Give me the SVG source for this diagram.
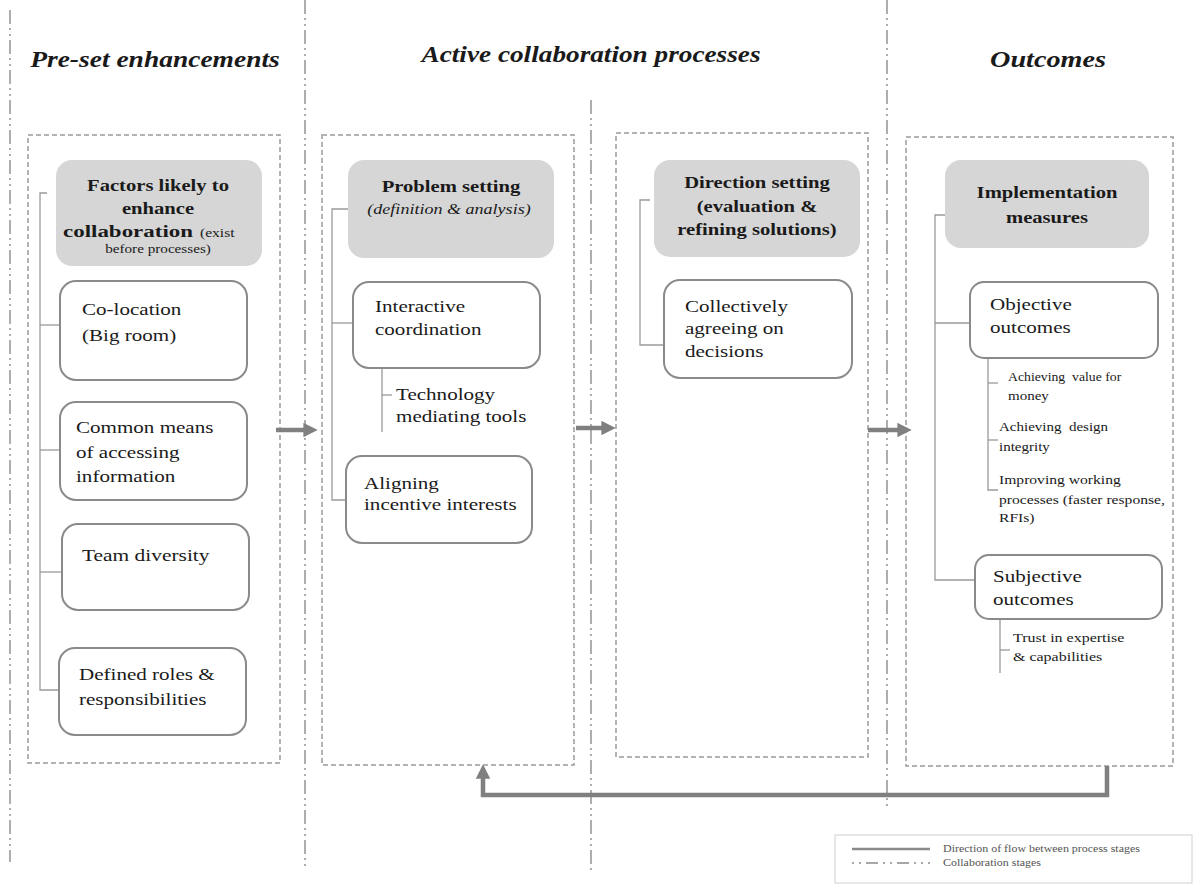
<svg xmlns="http://www.w3.org/2000/svg" width="1203" height="884" viewBox="0 0 1203 884">
<style>
text{font-family:"Liberation Serif","DejaVu Serif",serif;fill:#1a1a1a}
.title{font-size:23.5px;font-weight:bold;font-style:italic;text-anchor:middle}
.hb{font-size:16.5px;font-weight:bold;text-anchor:middle}
.hs{font-size:11.5px;text-anchor:middle}
.bt{font-size:17px}
.st{font-size:12.5px}
.lg{font-size:9.5px;fill:#555}
.stage{fill:none;stroke:#9a9a9a;stroke-width:1.6;stroke-dasharray:14 4 2 4 2 4}
.panel{fill:none;stroke:#9a9a9a;stroke-width:1.5;stroke-dasharray:5 3}
.head{fill:#d6d6d6;stroke:none}
.box{fill:#fff;stroke:#8a8a8a;stroke-width:2}
.br{fill:none;stroke:#9a9a9a;stroke-width:1.3}
.flow{fill:none;stroke:#808080;stroke-width:4.5}
</style>
<defs>
<marker id="ah" viewBox="0 0 10 10" refX="6" refY="5" markerWidth="3.2" markerHeight="3.2" orient="auto" markerUnits="strokeWidth">
<path d="M0,0 L10,5 L0,10 z" fill="#808080"/>
</marker>
</defs>
<rect width="1203" height="884" fill="#fff"/>

<g id="stages">
<line class="stage" x1="10" y1="10" x2="10" y2="862"/>
<line class="stage" x1="305" y1="0" x2="305" y2="870"/>
<line class="stage" x1="591" y1="100" x2="591" y2="870"/>
<line class="stage" x1="887" y1="0" x2="887" y2="810"/>
</g>

<g id="titles">
<text class="title" transform="translate(155 67) scale(1.17 1)">Pre-set enhancements</text>
<text class="title" transform="translate(591 62) scale(1.16 1)">Active collaboration processes</text>
<text class="title" transform="translate(1048 67) scale(1.2 1)">Outcomes</text>
</g>

<g id="panels">
<rect class="panel" x="28" y="135" width="252" height="628"/>
<rect class="panel" x="322" y="135" width="252" height="630"/>
<rect class="panel" x="616" y="133" width="252" height="624"/>
<rect class="panel" x="906" y="137" width="267" height="629"/>
</g>

<g id="connectors">
<polyline class="br" points="47,193 40,193 40,690 59,690"/>
<line class="br" x1="40" y1="325" x2="60" y2="325"/>
<line class="br" x1="40" y1="450" x2="60" y2="450"/>
<line class="br" x1="40" y1="572" x2="62" y2="572"/>
<polyline class="br" points="348,209 332,209 332,500 346,500"/>
<line class="br" x1="332" y1="323" x2="353" y2="323"/>
<polyline class="br" points="382,368 382,432"/>
<line class="br" x1="382" y1="395" x2="392" y2="395"/>
<polyline class="br" points="650,200 640,200 640,345 664,345"/>
<polyline class="br" points="945,215 935,215 935,580 975,580"/>
<line class="br" x1="935" y1="323" x2="970" y2="323"/>
<polyline class="br" points="988,358 988,490 998,490"/>
<line class="br" x1="988" y1="383" x2="998" y2="383"/>
<line class="br" x1="988" y1="440" x2="998" y2="440"/>
<polyline class="br" points="1000,619 1000,673"/>
<line class="br" x1="1000" y1="650" x2="1010" y2="650"/>
<line class="flow" x1="276" y1="430" x2="312" y2="430" marker-end="url(#ah)"/>
<line class="flow" x1="576" y1="428" x2="610" y2="428" marker-end="url(#ah)"/>
<line class="flow" x1="868" y1="430" x2="906" y2="430" marker-end="url(#ah)"/>
<polyline class="flow" points="1107,766 1107,795 483,795 483,770" marker-end="url(#ah)"/>
</g>

<g id="n-factors">
<rect class="head" x="56" y="160" width="206" height="106" rx="16"/>
<text class="hb" transform="translate(158 191) scale(1.25 1)">Factors likely to</text>
<text class="hb" transform="translate(158 214) scale(1.25 1)">enhance</text>
<text transform="translate(63 237) scale(1.35 1)" font-size="17" font-weight="bold">collaboration</text>
<text transform="translate(200 237) scale(1.35 1)" font-size="11.5">(exist</text>
<text class="hs" transform="translate(158 253) scale(1.32 1)">before processes)</text>
</g>
<g id="n-colocation">
<rect class="box" x="60" y="281" width="187" height="99" rx="16"/>
<text class="bt" transform="translate(82 315) scale(1.24 1)">Co-location</text>
<text class="bt" transform="translate(82 341) scale(1.24 1)">(Big room)</text>
</g>
<g id="n-common">
<rect class="box" x="60" y="402" width="187" height="98" rx="16"/>
<text class="bt" transform="translate(76 433) scale(1.24 1)">Common means</text>
<text class="bt" transform="translate(76 458) scale(1.24 1)">of accessing</text>
<text class="bt" transform="translate(76 482) scale(1.24 1)">information</text>
</g>
<g id="n-team">
<rect class="box" x="62" y="524" width="187" height="86" rx="16"/>
<text class="bt" transform="translate(82 561) scale(1.26 1)">Team diversity</text>
</g>
<g id="n-roles">
<rect class="box" x="59" y="648" width="187" height="87" rx="16"/>
<text class="bt" transform="translate(79 680) scale(1.24 1)">Defined roles &amp;</text>
<text class="bt" transform="translate(79 705) scale(1.24 1)">responsibilities</text>
</g>

<g id="n-problem">
<rect class="head" x="348" y="160" width="206" height="98" rx="16"/>
<text class="hb" transform="translate(451 192) scale(1.25 1)">Problem setting</text>
<text transform="translate(449 214) scale(1.29 1)" text-anchor="middle" font-size="14" font-style="italic">(definition &amp; analysis)</text>
</g>
<g id="n-interactive">
<rect class="box" x="353" y="282" width="187" height="86" rx="16"/>
<text class="bt" transform="translate(375 312) scale(1.24 1)">Interactive</text>
<text class="bt" transform="translate(375 335) scale(1.24 1)">coordination</text>
</g>
<g id="n-technology">
<text class="bt" transform="translate(396 400) scale(1.24 1)">Technology</text>
<text class="bt" transform="translate(396 422) scale(1.24 1)">mediating tools</text>
</g>
<g id="n-aligning">
<rect class="box" x="346" y="456" width="186" height="87" rx="16"/>
<text class="bt" transform="translate(364 489) scale(1.24 1)">Aligning</text>
<text class="bt" transform="translate(364 510) scale(1.24 1)">incentive interests</text>
</g>

<g id="n-direction">
<rect class="head" x="654" y="160" width="206" height="97" rx="16"/>
<text class="hb" transform="translate(757 188) scale(1.25 1)">Direction setting</text>
<text class="hb" transform="translate(757 212) scale(1.25 1)">(evaluation &amp;</text>
<text class="hb" transform="translate(757 235) scale(1.25 1)">refining solutions)</text>
</g>
<g id="n-collectively">
<rect class="box" x="664" y="280" width="188" height="98" rx="16"/>
<text class="bt" transform="translate(685 312) scale(1.24 1)">Collectively</text>
<text class="bt" transform="translate(685 334) scale(1.24 1)">agreeing on</text>
<text class="bt" transform="translate(685 357) scale(1.24 1)">decisions</text>
</g>

<g id="n-implementation">
<rect class="head" x="945" y="160" width="204" height="88" rx="16"/>
<text class="hb" transform="translate(1047 198) scale(1.25 1)">Implementation</text>
<text class="hb" transform="translate(1047 223) scale(1.25 1)">measures</text>
</g>
<g id="n-objective">
<rect class="box" x="970" y="282" width="188" height="76" rx="14"/>
<text class="bt" transform="translate(990 310) scale(1.24 1)">Objective</text>
<text class="bt" transform="translate(990 333) scale(1.24 1)">outcomes</text>
</g>
<g id="n-value">
<text class="st" transform="translate(1008 381) scale(1.1 1)" xml:space="preserve">Achieving  value for</text>
<text class="st" transform="translate(1008 400) scale(1.2 1)">money</text>
</g>
<g id="n-integrity">
<text class="st" transform="translate(999 431) scale(1.2 1)" xml:space="preserve">Achieving  design</text>
<text class="st" transform="translate(999 451) scale(1.2 1)">integrity</text>
</g>
<g id="n-improving">
<text class="st" transform="translate(999 484) scale(1.25 1)">Improving working</text>
<text class="st" transform="translate(999 504) scale(1.25 1)">processes (faster response,</text>
<text class="st" transform="translate(999 522) scale(1.25 1)">RFIs)</text>
</g>
<g id="n-subjective">
<rect class="box" x="975" y="555" width="187" height="64" rx="14"/>
<text class="bt" transform="translate(993 582) scale(1.24 1)">Subjective</text>
<text class="bt" transform="translate(993 605) scale(1.24 1)">outcomes</text>
</g>
<g id="n-trust">
<text class="st" transform="translate(1013 642) scale(1.28 1)">Trust in expertise</text>
<text class="st" transform="translate(1013 661) scale(1.28 1)">&amp; capabilities</text>
</g>

<g id="legend">
<rect x="835" y="835" width="357" height="48" fill="#fff" stroke="#d0d0d0" stroke-width="1"/>
<line x1="852" y1="849" x2="930" y2="849" stroke="#8a8a8a" stroke-width="2.5"/>
<text class="lg" transform="translate(943 852) scale(1.26 1)">Direction of flow between process stages</text>
<line x1="852" y1="863" x2="930" y2="863" stroke="#8a8a8a" stroke-width="1.3" stroke-dasharray="2 5 2 5 12 5"/>
<text class="lg" transform="translate(943 866) scale(1.26 1)">Collaboration stages</text>
</g>
</svg>
